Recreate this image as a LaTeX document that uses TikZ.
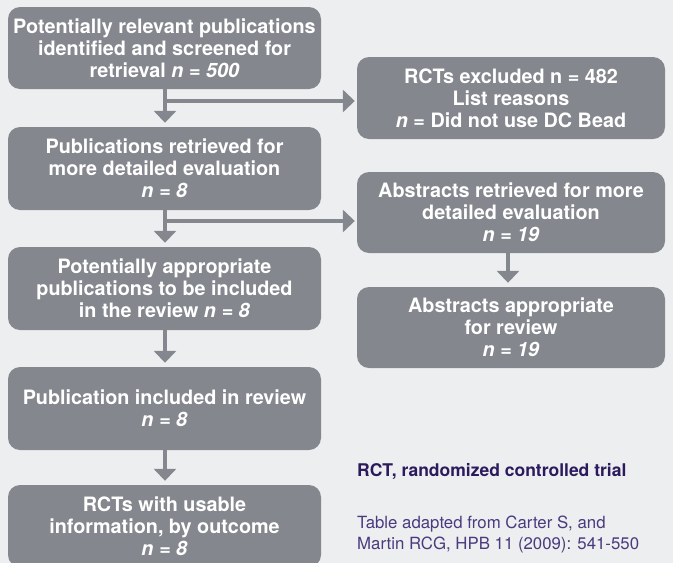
\documentclass[tikz,border=0pt]{standalone}
\usepackage{fontspec}
\setmainfont{TeX Gyre Heros}
\usetikzlibrary{arrows.meta}
\definecolor{bg}{HTML}{EDEEF0}
\definecolor{boxgray}{HTML}{84878D}
\definecolor{darkpurple}{HTML}{2B1A5C}
\definecolor{notepurple}{HTML}{4A3A7E}
\tikzset{
  flowbox/.style={fill=boxgray, rounded corners=12pt, text=white, align=center,
    font=\fontsize{19.8}{22}\selectfont\bfseries, inner sep=0pt},
  leftbox/.style={flowbox, minimum width=313pt},
  rightbox/.style={flowbox, minimum width=308pt},
  link/.style={draw=boxgray, line width=4pt},
  arr/.style={link, -{Triangle[width=22pt,length=12pt]}, shorten >=4pt},
  harr/.style={link, -{Triangle[width=22pt,length=12pt]}, shorten >=2pt},
  notebold/.style={anchor=base west, text=darkpurple, font=\fontsize{17.5}{21}\selectfont\bfseries, inner sep=0pt},
  notereg/.style={anchor=base west, text=notepurple, font=\fontsize{16.8}{21}\selectfont, inner sep=0pt}
}
\begin{document}
\begin{tikzpicture}[x=1pt,y=-1pt]
\fill[bg] (0,0) rectangle (673,563);
\useasboundingbox (0,0) rectangle (673,563);
\clip (0,0) rectangle (673,563);
% left column
\node[leftbox, minimum height=82pt] (b1) at (164.5,48) {Potentially relevant publications\\identified and screened for\\retrieval \textit{n = 500}};
\node[leftbox, minimum height=83pt] (b2) at (164.5,168.5) {Publications retrieved for\\more detailed evaluation\\\textit{n = 8}};
\node[leftbox, minimum height=83pt] (b3) at (164.5,288.5) {Potentially appropriate\\publications to be included\\in the review \textit{n = 8}};
\node[leftbox, minimum height=83pt] (b4) at (164.5,408.5) {Publication included in review\\\textit{n = 8}};
\node[leftbox, minimum height=82pt] (b5) at (164.5,526) {RCTs with usable\\information, by outcome\\\textit{n = 8}};
% right column
\node[rightbox, minimum height=82pt] (r1) at (511,98) {RCTs excluded n = 482\\List reasons\\\textit{n} = Did not use DC Bead};
\node[rightbox, minimum height=81pt] (r2) at (511,212.5) {Abstracts retrieved for more\\detailed evaluation\\\textit{n = 19}};
\node[rightbox, minimum height=81pt] (r3) at (511,327.5) {Abstracts appropriate\\for review\\\textit{n = 19}};
% junctions
\coordinate (j1) at (165,101);
\coordinate (j2) at (165,221);
% connectors
\draw[arr] (b1.south -| j1) -- (b2.north -| j1);
\draw[harr] (j1) -- (j1 -| r1.west);
\draw[arr] (b2.south -| j2) -- (b3.north -| j2);
\draw[harr] (j2) -- (j2 -| r2.west);
\draw[arr] (b3.south -| j1) -- (b4.north -| j1);
\draw[arr] (b4.south -| j1) -- (b5.north -| j1);
\draw[arr] (r2.south -| 508,0) -- (r3.north -| 508,0);
% notes
\node[notebold] (n1) at (357,476) {RCT, randomized controlled trial};
\node[notereg] (n2) at (357,528) {Table adapted from Carter S, and};
\node[notereg] (n3) at (357,549) {Martin RCG, HPB 11 (2009): 541-550};
\end{tikzpicture}
\end{document}
